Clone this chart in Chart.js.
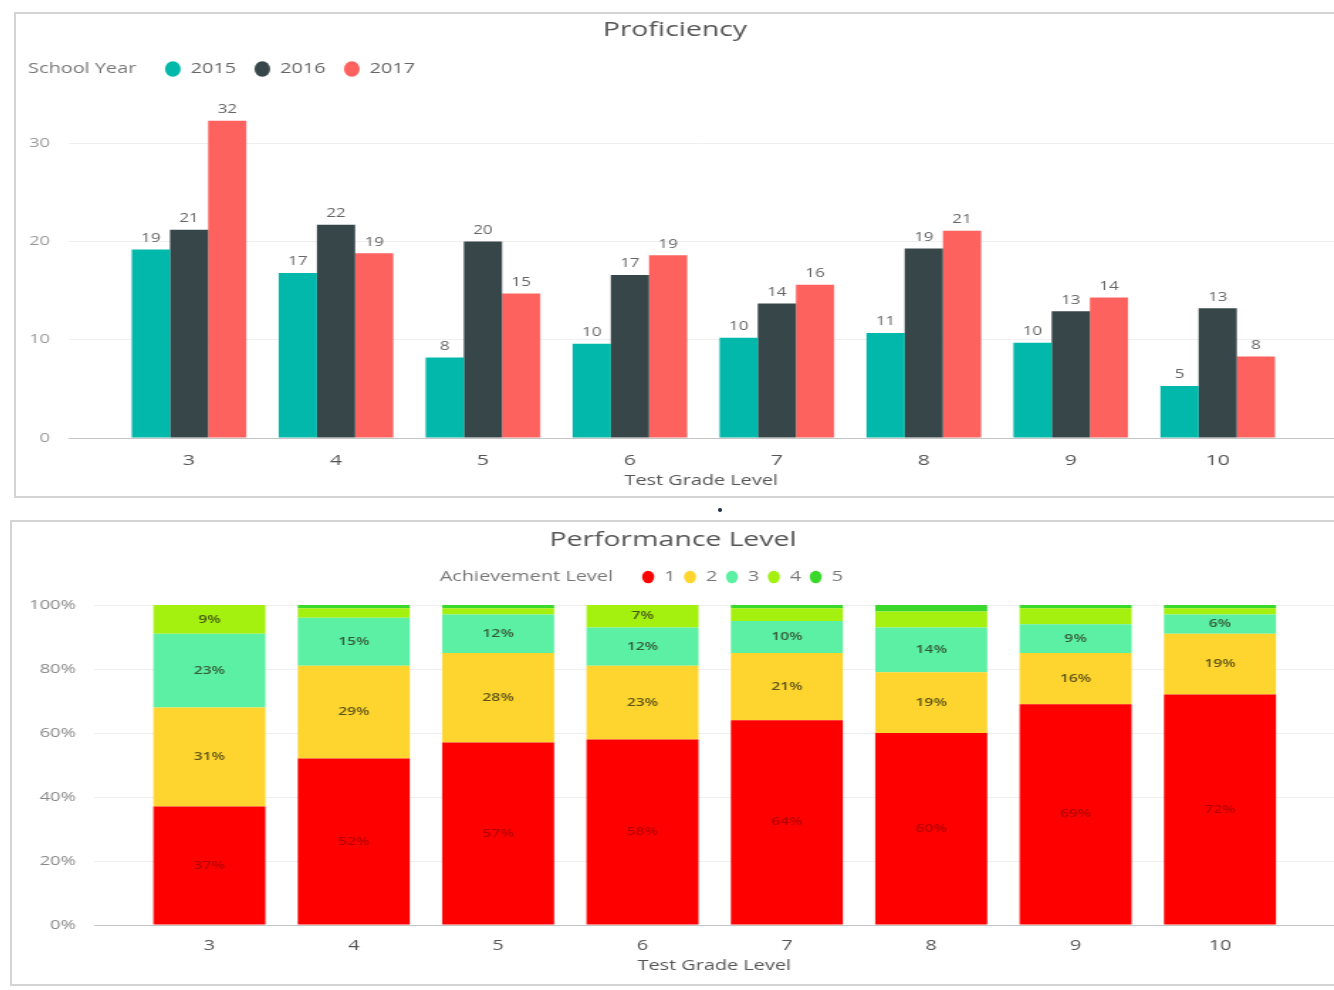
<!DOCTYPE html>
<html>
<head>
<meta charset="utf-8">
<script src="https://cdn.jsdelivr.net/npm/chart.js"></script>
<style>
  body { margin: 0; background: #fff; width: 1334px; height: 990px; overflow: hidden; position: relative; }
  .panel { position: absolute; border: 2px solid #d4d4d4; border-right: none; background: #fff; }
  #topPanel { left: 14px; top: 12px; width: 1330px; height: 482px; }
  #bottomPanel { left: 10px; top: 520px; width: 1334px; height: 462px; }
  /* the source screenshot is stretched sideways, so the drawing is too */
  .panel .box { position: absolute; left: 0; top: 0; transform: scaleX(1.42); transform-origin: 0 0; }
  #topPanel .box { width: 928px; height: 482px; }
  #bottomPanel .box { width: 931px; height: 462px; }
  #dot { position: absolute; left: 718px; top: 508px; width: 4px; height: 4px; border-radius: 2px; background: #1e2a44; }
</style>
</head>
<body>
<div class="panel" id="topPanel"><div class="box"><canvas id="graficoProficiency"></canvas></div></div>
<div id="dot"></div>
<div class="panel" id="bottomPanel"><div class="box"><canvas id="graficoPerformance"></canvas></div></div>
<script>
// Datos
const grados = [3, 4, 5, 6, 7, 8, 9, 10];
const anios = ['2015', '2016', '2017'];
const prof2015 = [19.2, 16.8, 8.2, 9.6, 10.2, 10.7, 9.7, 5.3];
const prof2016 = [21.2, 21.7, 20.0, 16.6, 13.7, 19.3, 12.9, 13.2];
const prof2017 = [32.3, 18.8, 14.7, 18.6, 15.6, 21.1, 14.3, 8.3];
const proficiencyTicks = [0, 10, 20, 30];

const niveles = ['1', '2', '3', '4', '5'];
const nivel1 = [37, 52, 57, 58, 64, 60, 69, 72];
const nivel2 = [31, 29, 28, 23, 21, 19, 16, 19];
const nivel3 = [23, 15, 12, 12, 10, 14, 9, 6];
const nivel4 = [9, 3, 2, 7, 4, 5, 5, 2];
const nivel5 = [0, 1, 1, 0, 1, 2, 1, 1];
const percentTicks = [0, 20, 40, 60, 80, 100];

Chart.defaults.font.family = "'Open Sans', 'Noto Sans', sans-serif";
Chart.defaults.color = '#666';
Chart.defaults.animation = false;

const toPoints = arr => arr.map((v, i) => ({ x: grados[i], y: v }));

// leyenda con titulo en linea ("School Year", "Achievement Level")
function legendItems(titulo) {
    return function (chart) {
        const items = Chart.defaults.plugins.legend.labels.generateLabels(chart);
        items.forEach(it => { it.strokeStyle = it.fillStyle; it.lineWidth = 0; it.pointStyle = 'circle'; });
        return [{ text: titulo, fillStyle: 'rgba(0,0,0,0)', strokeStyle: 'rgba(0,0,0,0)', lineWidth: 0,
                  pointStyle: 'circle', hidden: false, datasetIndex: -1, fontColor: '#777' }].concat(items);
    };
}

// mover la leyenda y dejar espacio debajo
function legendTweak(dx, extra) {
    return {
        id: 'legendTweak',
        beforeInit(chart) {
            const fit = chart.legend.fit;
            chart.legend.fit = function () { fit.call(this); this.height += extra; };
        },
        afterLayout(chart) {
            chart.legend.left += dx;
            chart.legend.right += dx;
        }
    };
}

// etiquetas encima de cada barra
const etiquetasArriba = {
    id: 'etiquetasArriba',
    afterDatasetsDraw(chart) {
        const ctx = chart.ctx;
        ctx.save();
        ctx.font = "12px 'Open Sans', sans-serif";
        ctx.fillStyle = '#666';
        ctx.textAlign = 'center';
        ctx.textBaseline = 'bottom';
        chart.data.datasets.forEach((ds, i) => {
            chart.getDatasetMeta(i).data.forEach((bar, j) => {
                ctx.fillText(Math.round(ds.data[j].y), bar.x, bar.y - 5);
            });
        });
        ctx.restore();
    }
};

// etiquetas dentro de cada segmento apilado
const etiquetasDentro = {
    id: 'etiquetasDentro',
    afterDatasetsDraw(chart) {
        const ctx = chart.ctx;
        ctx.save();
        ctx.font = "600 11px 'Open Sans', sans-serif";
        ctx.textAlign = 'center';
        ctx.textBaseline = 'middle';
        chart.data.datasets.forEach((ds, i) => {
            ctx.fillStyle = i === 0 ? 'rgba(120,0,0,0.55)' : 'rgba(40,40,20,0.75)';
            chart.getDatasetMeta(i).data.forEach((bar, j) => {
                const v = ds.data[j].y;
                if (v < 6) return;
                ctx.fillText(v + '%', bar.x, (bar.y + bar.base) / 2);
            });
        });
        ctx.restore();
    }
};

// Proficiency
new Chart(document.getElementById('graficoProficiency'), {
    type: 'bar',
    data: {
        datasets: [
            { label: anios[0], data: toPoints(prof2015), backgroundColor: '#01B8AA' },
            { label: anios[1], data: toPoints(prof2016), backgroundColor: '#374649' },
            { label: anios[2], data: toPoints(prof2017), backgroundColor: '#FD625E' }
        ]
    },
    options: {
        responsive: true,
        maintainAspectRatio: false,
        datasets: { bar: { categoryPercentage: 0.78, barPercentage: 1 } },
        layout: { padding: { left: 0, right: 0, top: 0, bottom: 7 } },
        plugins: {
            title: { display: true, text: 'Proficiency', color: '#555',
                     font: { size: 20, weight: 'normal' }, padding: { top: 4, bottom: 7 } },
            legend: {
                align: 'start',
                labels: { usePointStyle: true, pointStyle: 'circle', boxWidth: 11, boxHeight: 11,
                          pointStyleWidth: 11, padding: 13, color: '#666', font: { size: 14 },
                          generateLabels: legendItems('School Year  ') }
            },
            tooltip: { enabled: false }
        },
        scales: {
            x: {
                type: 'linear',
                offset: false,
                min: 2.18, max: 10.79,
                afterFit(scale) { scale.height = 51; },
                grid: { display: false, drawTicks: false },
                border: { display: true, color: '#c4c4c4', width: 1 },
                ticks: { stepSize: 1, includeBounds: false, padding: 14, color: '#555', font: { size: 15 } },
                title: { display: true, text: 'Test Grade Level', color: '#555', font: { size: 14 },
                         padding: { top: 2, bottom: 0 } }
            },
            y: {
                min: 0, max: 34,
                afterFit(scale) { scale.width = 37; },
                afterBuildTicks(scale) { scale.ticks = proficiencyTicks.map(v => ({ value: v })); },
                grid: { color: '#efefef', drawTicks: false },
                border: { display: false },
                ticks: { padding: 13, color: '#999', font: { size: 13 } }
            }
        }
    },
    plugins: [legendTweak(-22.5, 18), etiquetasArriba]
});

// Performance Level
const coloresNivel = ['#FF0000', '#FDD52E', '#5CF0A4', '#A4F00F', '#3AD82A'];
const datosNivel = [nivel1, nivel2, nivel3, nivel4, nivel5];

new Chart(document.getElementById('graficoPerformance'), {
    type: 'bar',
    data: {
        datasets: datosNivel.map((arr, i) => ({
            label: niveles[i], data: toPoints(arr), backgroundColor: coloresNivel[i]
        }))
    },
    options: {
        responsive: true,
        maintainAspectRatio: false,
        datasets: { bar: { categoryPercentage: 0.776, barPercentage: 1 } },
        layout: { padding: { left: 0, right: 0, top: 0, bottom: 10 } },
        plugins: {
            title: { display: true, text: 'Performance Level', color: '#555',
                     font: { size: 20, weight: 'normal' }, padding: { top: 6, bottom: 12 } },
            legend: {
                align: 'center',
                labels: { usePointStyle: true, pointStyle: 'circle', boxWidth: 9, boxHeight: 9,
                          pointStyleWidth: 8.5, padding: 6, color: '#777', font: { size: 14 },
                          generateLabels: legendItems('Achievement Level    ') }
            },
            tooltip: { enabled: false }
        },
        scales: {
            x: {
                type: 'linear',
                offset: false,
                stacked: true,
                min: 2.203, max: 10.79,
                afterFit(scale) { scale.height = 49; },
                grid: { display: false, drawTicks: false },
                border: { display: true, color: '#c4c4c4', width: 1 },
                ticks: { stepSize: 1, includeBounds: false, padding: 13, color: '#555', font: { size: 14 } },
                title: { display: true, text: 'Test Grade Level', color: '#555', font: { size: 14 },
                         padding: { top: 2, bottom: 0 } }
            },
            y: {
                stacked: true,
                min: 0, max: 100,
                afterFit(scale) { scale.width = 58; },
                afterBuildTicks(scale) { scale.ticks = percentTicks.map(v => ({ value: v })); },
                grid: { color: '#efefef', drawTicks: false },
                border: { display: false },
                ticks: { padding: 13, color: '#888', font: { size: 13 }, callback: v => v + '%' }
            }
        }
    },
    plugins: [legendTweak(-30, 11), etiquetasDentro]
});
</script>
</body>
</html>
